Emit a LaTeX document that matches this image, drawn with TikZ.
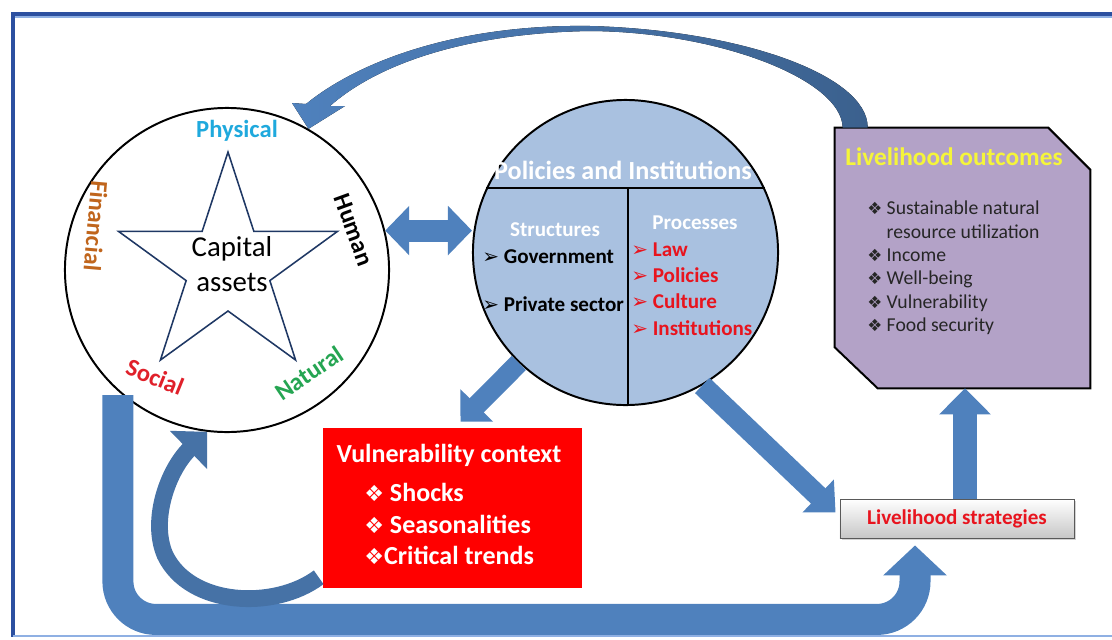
\documentclass[tikz,border=0pt]{standalone}
\usepackage{fontspec}
\setmainfont{Carlito}
\newfontfamily\dvsans{DejaVu Sans}
\usepackage{xcolor}
\usetikzlibrary{positioning,calc,arrows.meta,backgrounds,shadows}

\definecolor{arblue}{HTML}{4F81BD}
\definecolor{piblue}{HTML}{A9C1E0}
\definecolor{lopurple}{HTML}{B3A2C7}
\definecolor{vcred}{HTML}{FF0000}
\definecolor{physc}{HTML}{1FA9DD}
\definecolor{finc}{HTML}{C0651C}
\definecolor{socc}{HTML}{E0202A}
\definecolor{natc}{HTML}{25A552}
\definecolor{framedk}{HTML}{2C50A0}
\definecolor{framelt}{HTML}{8FB0E3}
\definecolor{starln}{HTML}{1F3864}
\definecolor{lotitle}{HTML}{F5F53A}
\definecolor{procred}{HTML}{E8141E}

\newcommand{\diabul}{{\dvsans\scalebox{0.85}{❖}}}
\newcommand{\arrbul}{{\dvsans\scalebox{0.95}{➢}}}

\begin{document}
\begin{tikzpicture}[
  x=0.025cm, y=-0.025cm,
  fat/.style={draw=arblue, line width=#1},
  ring/.style={circle, draw, line width=1.4pt, inner sep=0pt},
  lbl/.style={font=\fontsize{17.5}{20}\selectfont\bfseries, text=#1, inner sep=0pt},
  ttl/.style={font=\fontsize{#1}{#1}\selectfont\bfseries, inner sep=1pt},
  lst/.style={align=left, inner sep=0pt, anchor=west},
]

%% ===== FRAME =====
\useasboundingbox (0,0) rectangle (1112,639);
\draw[framelt, line width=1.2pt] (1114,17) -- (15,17);
\draw[framedk, line width=2.2pt] (1114,14) -- (13,14) -- (13,637);
\draw[framelt, line width=1.6pt] (13,636) -- (1114,636);

%% ===== LEFT: CAPITAL ASSETS =====
\node[ring, fill=white, minimum size=8.1cm] (ca) at (227,270) {};

\begin{scope}[shift={(228,267)}, y=0.025cm]
  \draw[starln, line width=1.1pt] (90:115)
    \foreach \a in {90,162,234,306,18} { -- (\a+36:44) -- (\a+72:115) } -- cycle;
\end{scope}

\node[font=\fontsize{20.5}{25}\selectfont, align=center] (capt) at (232,264)
    {Capital\\assets};

\node[lbl=physc] (phys) at (237,131) {Physical};
\node[lbl=finc, rotate=-95] (fin) at (96,226) {Financial};
\node[lbl=black, rotate=-70] (hum) at (354,230) {Human};
\node[lbl=socc, rotate=-22] (soc) at (155,377) {Social};
\node[lbl=natc, rotate=34] (nat) at (309,373) {Natural};

%% ===== MIDDLE: POLICIES AND INSTITUTIONS =====
\node[ring, fill=piblue, minimum size=7.625cm] (pi) at (625.5,252.5) {};
\draw[line width=1.4pt] (pi.155) -- (pi.25);
\draw[line width=1.4pt] ($(pi.center)+(2.5,-65)$) -- ($(pi.south)+(2.5,0)$);

\node[ttl=18.6, white] (pititle) at (623,170) {Policies and Institutions};

\node[ttl=15, white] (strc) at (555,230) {Structures};
\node[ttl=15, lst] (gov) at (482,257) {\arrbul\ Government};
\node[ttl=15, lst] (priv) at (482,304) {\arrbul\ Private sector};

\node[ttl=15, white] (proc) at (695,223) {Processes};
\node[ttl=15, lst, text=procred, font=\fontsize{15}{18.6}\selectfont\bfseries]
    (plist) at (631,289)
    {\arrbul\ Law\\\arrbul\ Policies\\\arrbul\ Culture\\\arrbul\ Institutions};

%% ===== VULNERABILITY CONTEXT =====
\node[fill=vcred, minimum width=6.475cm, minimum height=4cm, inner sep=0pt] (vc)
    at (452.5,508) {};
\node[ttl=18.5, white] (vctitle) at (449,455) {Vulnerability context};
\node[lst, white, font=\fontsize{18.5}{22.4}\selectfont\bfseries] (vclist) at (364,524)
    {\diabul\ Shocks\\\diabul\ Seasonalities\\\diabul Critical trends};

%% ===== RIGHT: OUTCOMES AND STRATEGIES =====
\node[minimum width=6.375cm, minimum height=6.5cm, inner sep=0pt] (lo) at (962.5,258) {};
\begin{pgfonlayer}{background}
  \filldraw[fill=lopurple, draw=black, line width=1.4pt]
    (lo.north west) -- ($(lo.north east)+(-42,0)$) -- ($(lo.north east)+(0,42)$)
    -- (lo.south east) -- ($(lo.south west)+(43,0)$) -- ($(lo.south west)+(0,-41)$)
    -- cycle;
\end{pgfonlayer}
\node[ttl=18, text=lotitle] (lotitle) at (954,157) {Livelihood outcomes};
\node[lst, text=black!85, font=\fontsize{14}{16.6}\selectfont] (lolist) at (867,268)
    {\diabul\ Sustainable natural\\
     \phantom{\diabul\ }resource utilization\\
     \diabul\ Income\\
     \diabul\ Well-being\\
     \diabul\ Vulnerability\\
     \diabul\ Food security};

\node[draw=black!65, line width=0.6pt, top color=white, bottom color=black!22,
      drop shadow={opacity=0.35, shadow xshift=1.2pt, shadow yshift=-1.2pt},
      minimum width=5.85cm, minimum height=0.975cm, ttl=15, text=procred]
    (ls) at (957,518.5) {Livelihood strategies};

%% ===== CONNECTING ARROWS =====
\draw[fat=0.55cm, {Triangle[width=1.2cm,length=0.6cm]}-{Triangle[width=1.2cm,length=0.6cm]}]
    (ca.14) -- (ca.14 -| pi.west);

\draw[fat=0.5cm, -{Triangle[width=1.125cm,length=0.575cm]}]
    (pi.226) -- ($(vc.north)+(8,-6)$);

\draw[fat=0.525cm, -{Triangle[width=1.1cm,length=0.6cm]}]
    (pi.300) -- ($(ls.west)+(-4,-6)$);

\draw[fat=0.6cm, -{Triangle[width=1.25cm,length=0.65cm]}]
    ($(ls.north)+(8,0)$) coordinate (upS) -- (upS |- lo.south);

\draw[fat=0.775cm, rounded corners=0.95cm, -{Triangle[width=1.55cm,length=0.75cm]}]
    ($(ca.228)+(0,4)$) |- ($(ls.south)+(-42,81)$) -- ($(ls.south)+(-42,7)$);

\draw[fat=0.42cm, draw=arblue!88!black, -{Triangle[width=1.3cm,length=0.65cm]}]
    ($(vc.south west)+(-4,-11)$) .. controls (275,610) and (190,607) .. (165,555)
    .. controls (150,520) and (168,470) .. (ca.263);

\fill[left color=arblue, right color=arblue!75!black]
    ($(lo.north west)+(33,0)$) .. controls (868,75) and (740,30) .. (590,26)
    .. controls (460,24) and (360,60) .. (306,104) -- (292,103) -- (ca.60)
    -- (345,106) -- (330,106) .. controls (380,62) and (470,33) .. (590,31)
    .. controls (720,32) and (842,80) .. ($(lo.north west)+(8,0)$) -- cycle;

\end{tikzpicture}
\end{document}
